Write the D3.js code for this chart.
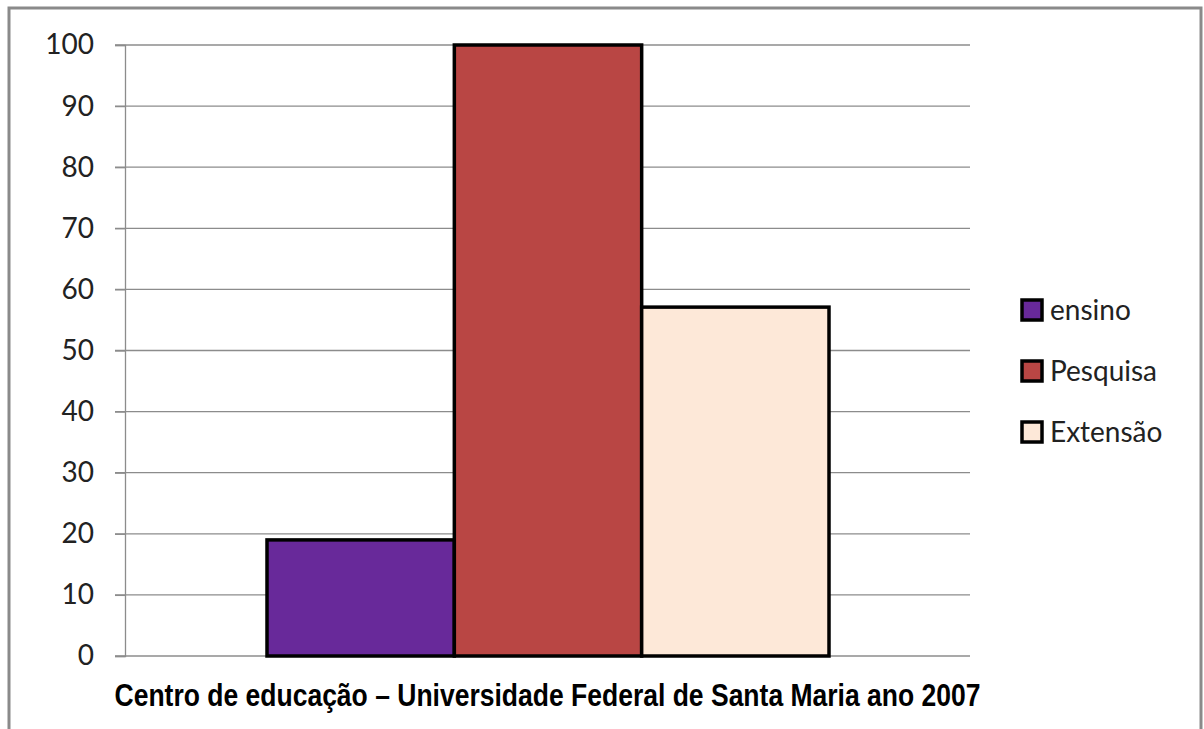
<!DOCTYPE html>
<html>
<head>
<meta charset="utf-8">
<script src="https://cdn.jsdelivr.net/npm/d3@7"></script>
<style>
  body { margin: 0; background: #fff; }
  svg { display: block; }
</style>
</head>
<body>
<svg></svg>
<script>
const width = 1204
const height = 729

// data
const series = ["ensino", "Pesquisa", "Extensão"]
const values = [19, 100, 57.1]
const colors = ["#68299a", "#b94644", "#fde8d8"]
const yTicks = [0, 10, 20, 30, 40, 50, 60, 70, 80, 90, 100]
const category = "Centro de educação – Universidade Federal de Santa Maria ano 2007"

const svg = d3.select("svg")
    .attr("width", width)
    .attr("height", height)

// outer frame
svg.append("rect")
  .attr("x", 9).attr("y", 8)
  .attr("width", 1192).attr("height", 740)
  .attr("fill", "#fff")
  .attr("stroke", "#8a8a8a")
  .attr("stroke-width", 3)

const plot = { left: 125, right: 970, top: 45, bottom: 656 }

const y = d3.scaleLinear()
  .domain([0, 100])
  .range([plot.bottom, plot.top])

// one category, the three series sit side by side in the middle
const x0 = d3.scaleBand()
  .domain([category])
  .range([plot.left, plot.right])
  .paddingInner(0).paddingOuter(0.5)

const x1 = d3.scaleBand()
  .domain(series)
  .range([267, 829])

// gridlines
svg.append("g")
  .selectAll("line")
  .data(yTicks)
  .join("line")
  .attr("x1", plot.left - 10)
  .attr("x2", plot.right)
  .attr("y1", d => y(d))
  .attr("y2", d => y(d))
  .attr("stroke", "#8c8c8c")
  .attr("stroke-width", 1.3)

// y axis
const yAxis = svg.append("g")
  .attr("transform", `translate(${plot.left},0)`)
  .call(d3.axisLeft(y).tickValues(yTicks).tickSize(10).tickPadding(21))

yAxis.select(".domain").attr("stroke", "#8c8c8c").attr("stroke-width", 1.3)
yAxis.selectAll(".tick line").attr("stroke", "#8c8c8c").attr("stroke-width", 1.3)
yAxis.selectAll(".tick text")
  .attr("font-family", "Lato, 'Open Sans', sans-serif")
  .attr("font-size", 28)
  .attr("fill", "#222")

// bars
svg.append("g")
  .selectAll("rect")
  .data(series)
  .join("rect")
  .attr("x", d => x1(d))
  .attr("width", x1.bandwidth())
  .attr("y", (d, i) => y(values[i]))
  .attr("height", (d, i) => y(0) - y(values[i]))
  .attr("fill", (d, i) => colors[i])
  .attr("stroke", "#000")
  .attr("stroke-width", 3.5)

// category label under the axis
svg.append("text")
  .attr("x", x0(category) + x0.bandwidth() / 2)
  .attr("y", 706)
  .attr("text-anchor", "middle")
  .attr("font-family", "'Liberation Sans', Arial, sans-serif")
  .attr("font-weight", "bold")
  .attr("font-size", 31)
  .attr("textLength", 866)
  .attr("lengthAdjust", "spacingAndGlyphs")
  .attr("fill", "#000")
  .text(category)

// legend
const legend = svg.append("g")
  .selectAll("g")
  .data(series)
  .join("g")
  .attr("transform", (d, i) => `translate(1021,${310 + i * 61})`)

legend.append("rect")
  .attr("x", 1).attr("y", -10)
  .attr("width", 20).attr("height", 20)
  .attr("fill", (d, i) => colors[i])
  .attr("stroke", "#000")
  .attr("stroke-width", 3.5)

legend.append("text")
  .attr("x", 29)
  .attr("y", 10)
  .attr("font-family", "Lato, 'Open Sans', sans-serif")
  .attr("font-size", 28)
  .attr("fill", "#222")
  .text(d => d)
</script>
</body>
</html>
